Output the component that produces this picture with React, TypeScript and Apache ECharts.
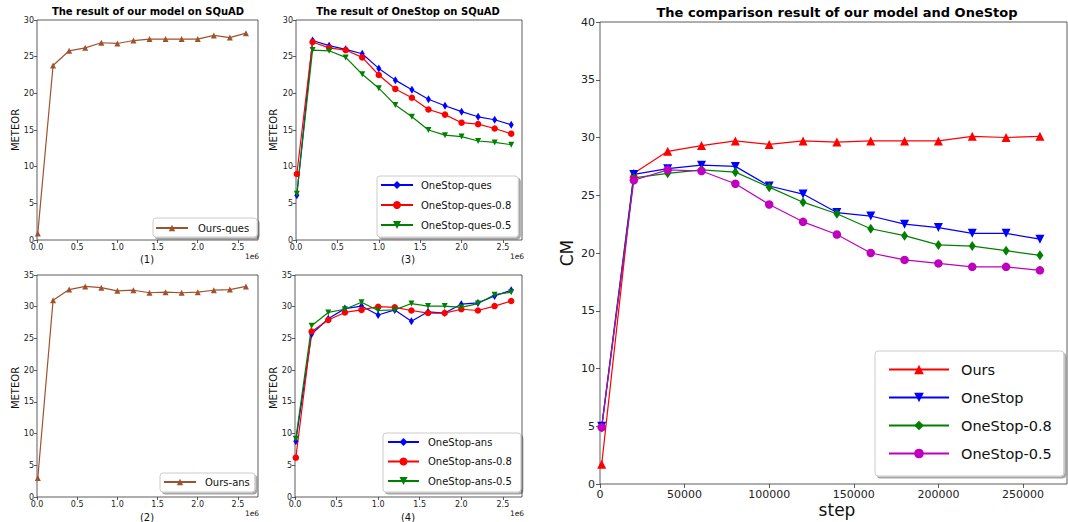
import React, { useEffect, useRef } from "react";
import * as echarts from "echarts";

const FONT = "DejaVu Sans";

// x positions (training steps)
const stepsLong = [10000, 200000, 400000, 600000, 800000, 1000000, 1200000, 1400000, 1600000, 1800000, 2000000, 2200000, 2400000, 2600000];
const stepsShort = [1000, 20000, 40000, 60000, 80000, 100000, 120000, 140000, 160000, 180000, 200000, 220000, 240000, 260000];

// (1) Ours on SQuAD (questions)
const oursQues = [0.9, 23.8, 25.8, 26.2, 26.9, 26.8, 27.2, 27.4, 27.4, 27.4, 27.4, 27.9, 27.6, 28.2];
// (2) Ours on SQuAD (answers)
const oursAns = [3.0, 31.0, 32.7, 33.2, 33.0, 32.5, 32.6, 32.2, 32.3, 32.2, 32.3, 32.6, 32.7, 33.2];
// (3) OneStop questions
const oneStopQues = [6.1, 27.2, 26.5, 26.0, 25.4, 23.4, 21.8, 20.5, 19.2, 18.3, 17.5, 16.8, 16.4, 15.7];
const oneStopQues08 = [9.0, 27.0, 26.2, 25.9, 24.9, 22.5, 20.6, 19.4, 17.8, 17.1, 16.0, 15.8, 15.2, 14.5];
const oneStopQues05 = [6.3, 25.9, 25.8, 24.9, 22.6, 20.7, 18.4, 16.8, 15.0, 14.3, 14.1, 13.5, 13.3, 13.0];
// (4) OneStop answers
const oneStopAns = [8.8, 25.7, 28.1, 29.7, 30.1, 28.7, 29.5, 27.7, 29.2, 29.0, 30.4, 30.6, 31.7, 32.6];
const oneStopAns08 = [6.2, 26.1, 27.9, 29.1, 29.5, 30.0, 29.9, 29.4, 29.0, 29.0, 29.6, 29.4, 30.1, 30.9];
const oneStopAns05 = [9.2, 27.0, 29.1, 29.6, 30.7, 29.4, 29.5, 30.5, 30.1, 30.1, 29.9, 30.5, 31.9, 32.3];
// Comparison (CM)
const cmOurs = [1.7, 26.9, 28.8, 29.3, 29.7, 29.4, 29.7, 29.6, 29.7, 29.7, 29.7, 30.1, 30.0, 30.1];
const cmOneStop = [5.0, 26.8, 27.3, 27.6, 27.5, 25.8, 25.1, 23.5, 23.2, 22.5, 22.2, 21.7, 21.7, 21.2];
const cmOneStop08 = [4.9, 26.5, 26.9, 27.2, 27.0, 25.7, 24.4, 23.4, 22.1, 21.5, 20.7, 20.6, 20.2, 19.8];
const cmOneStop05 = [4.9, 26.3, 27.2, 27.1, 26.0, 24.2, 22.7, 21.6, 20.0, 19.4, 19.1, 18.8, 18.8, 18.5];

// tick values
const smallXTicks = [0, 500000, 1000000, 1500000, 2000000, 2500000];
const bigXTicks = [0, 50000, 100000, 150000, 200000, 250000];

const pairs = (xs: number[], ys: number[]) => xs.map((x, i) => [x, ys[i]]);

function smallX(gridIndex: number, max: number) {
  return {
    type: "value",
    gridIndex,
    min: 0,
    max,
    axisLine: { show: false },
    splitLine: { show: false },
    axisTick: { show: true, length: 3, lineStyle: { color: "#333", width: 0.8 }, customValues: smallXTicks },
    axisLabel: {
      customValues: smallXTicks,
      formatter: (v: number) => (v / 1e6).toFixed(1),
      fontSize: 8,
      color: "#222",
      fontFamily: FONT,
      margin: 3,
    },
  };
}

function smallY(gridIndex: number, max: number) {
  return {
    type: "value",
    gridIndex,
    min: 0,
    max,
    interval: 5,
    axisLine: { show: false },
    splitLine: { show: false },
    axisTick: { show: true, length: 3, lineStyle: { color: "#333", width: 0.8 } },
    axisLabel: { fontSize: 8, color: "#222", fontFamily: FONT, margin: 3 },
  };
}

function line(name: string, idx: number, xs: number[], ys: number[], color: string, symbol: string, size: any, rotate = 0, width = 1.2) {
  return {
    type: "line",
    name,
    xAxisIndex: idx,
    yAxisIndex: idx,
    data: pairs(xs, ys),
    symbol,
    symbolSize: size,
    symbolRotate: rotate,
    showSymbol: true,
    itemStyle: { color, opacity: 1 },
    lineStyle: { color, width },
    emphasis: { disabled: true },
  };
}

function legendBox(
  names: string[],
  left: number,
  top: number,
  padding: number[],
  itemWidth: number,
  itemHeight: number,
  itemGap: number,
  fontSize: number,
  lineHeight: number,
  textPad: number
) {
  return {
    orient: "vertical",
    left,
    top,
    data: names,
    padding,
    itemWidth,
    itemHeight,
    itemGap,
    backgroundColor: "#fff",
    borderColor: "#ccc",
    borderWidth: 1,
    borderRadius: 3,
    shadowColor: "rgba(0,0,0,0.35)",
    shadowBlur: 0,
    shadowOffsetX: 2,
    shadowOffsetY: 2,
    selectedMode: false,
    textStyle: { fontSize, lineHeight, fontFamily: FONT, color: "#111", padding: [0, 0, 0, textPad] },
  };
}

function txt(text: string, x: number, y: number, fontSize: number, opts: any = {}) {
  return {
    type: "text",
    x,
    y,
    rotation: opts.rotation || 0,
    style: {
      text,
      fontSize,
      fontFamily: FONT,
      fontWeight: opts.bold ? "bold" : "normal",
      fill: opts.fill || "#111",
      align: "center",
      verticalAlign: "middle",
      textAlign: "center",
      textVerticalAlign: "middle",
    },
  };
}

export default function App() {
  const ref = useRef<HTMLDivElement>(null);
  useEffect(() => {
    if (!ref.current) return;
    const chart = echarts.init(ref.current, null, { renderer: "svg" });
    const gridBase = { show: true, borderColor: "#333", borderWidth: 0.8, backgroundColor: "transparent", containLabel: false };
    const option: any = {
      animation: false,
      backgroundColor: "#fff",
      grid: [
        { ...gridBase, left: 37, top: 20, width: 221, height: 220 },
        { ...gridBase, left: 296, top: 20, width: 226, height: 220 },
        { ...gridBase, left: 37, top: 275, width: 221, height: 222 },
        { ...gridBase, left: 295, top: 275, width: 227, height: 222 },
        { ...gridBase, left: 600, top: 22, width: 467, height: 462 },
      ],
      xAxis: [
        smallX(0, 2750000),
        smallX(1, 2730000),
        smallX(2, 2750000),
        smallX(3, 2730000),
        {
          type: "value",
          gridIndex: 4,
          min: 0,
          max: 276000,
          axisLine: { show: false },
          splitLine: { show: false },
          axisTick: { show: true, length: 4, lineStyle: { color: "#333", width: 0.8 }, customValues: bigXTicks },
          axisLabel: {
            customValues: bigXTicks,
            formatter: (v: number) => String(v),
            fontSize: 11,
            color: "#222",
            fontFamily: FONT,
            margin: 5,
          },
        },
      ],
      yAxis: [
        smallY(0, 30),
        smallY(1, 30),
        smallY(2, 35),
        smallY(3, 35),
        {
          type: "value",
          gridIndex: 4,
          min: 0,
          max: 40,
          interval: 5,
          axisLine: { show: false },
          splitLine: { show: false },
          axisTick: { show: true, length: 4, lineStyle: { color: "#333", width: 0.8 } },
          axisLabel: { fontSize: 11, color: "#222", fontFamily: FONT, margin: 5 },
        },
      ],
      legend: [
        legendBox(["Ours-ques"], 153, 218, [4, 8, 3, 2], 32, 8, 8, 10, 12, 5),
        legendBox(["OneStop-ques", "OneStop-ques-0.8", "OneStop-ques-0.5"], 377, 176, [3, 7, 6, 3], 32, 10, 8, 10, 12, 3),
        legendBox(["Ours-ans"], 160, 473, [3, 5, 4, 3], 32, 8, 8, 10, 12, 4),
        legendBox(["OneStop-ans", "OneStop-ans-0.8", "OneStop-ans-0.5"], 383, 433, [3, 9, 5, 4], 31, 10, 7.5, 10, 12, 4),
        legendBox(["Ours", "OneStop", "OneStop-0.8", "OneStop-0.5"], 875, 351, [10, 12, 14, 13], 60, 12, 11, 14.5, 17, 7),
      ],
      series: [
        line("Ours-ques", 0, stepsLong, oursQues, "#a0522d", "triangle", 6),
        line("OneStop-ques", 1, stepsLong, oneStopQues, "#0000ff", "diamond", [5, 8]),
        line("OneStop-ques-0.8", 1, stepsLong, oneStopQues08, "#ff0000", "circle", 6.5),
        line("OneStop-ques-0.5", 1, stepsLong, oneStopQues05, "#008000", "triangle", 6, 180),
        line("Ours-ans", 2, stepsLong, oursAns, "#a0522d", "triangle", 6),
        line("OneStop-ans", 3, stepsLong, oneStopAns, "#0000ff", "diamond", [5, 8]),
        line("OneStop-ans-0.8", 3, stepsLong, oneStopAns08, "#ff0000", "circle", 6.5),
        line("OneStop-ans-0.5", 3, stepsLong, oneStopAns05, "#008000", "triangle", 6, 180),
        line("Ours", 4, stepsShort, cmOurs, "#ff0000", "triangle", 9),
        line("OneStop", 4, stepsShort, cmOneStop, "#0000ff", "triangle", 9, 180),
        line("OneStop-0.8", 4, stepsShort, cmOneStop08, "#008000", "diamond", [7, 10]),
        line("OneStop-0.5", 4, stepsShort, cmOneStop05, "#bf00bf", "circle", 8.5),
      ],
      graphic: [
        txt("The result of our model on SQuAD", 148, 11, 10, { bold: true, fill: "#000" }),
        txt("The result of OneStop on SQuAD", 408, 11, 10, { bold: true, fill: "#000" }),
        txt("The comparison result of our model and OneStop", 837, 12, 13, { bold: true, fill: "#000" }),
        txt("METEOR", 15, 130, 10, { rotation: Math.PI / 2 }),
        txt("METEOR", 273, 130, 10, { rotation: Math.PI / 2 }),
        txt("METEOR", 15, 388, 10, { rotation: Math.PI / 2 }),
        txt("METEOR", 273, 388, 10, { rotation: Math.PI / 2 }),
        txt("(1)", 147, 259, 10),
        txt("(3)", 408, 259, 10),
        txt("(2)", 147, 517, 10),
        txt("(4)", 408, 517, 10),
        txt("1e6", 252, 256, 7.5),
        txt("1e6", 517, 256, 7.5),
        txt("1e6", 252, 513, 7.5),
        txt("1e6", 517, 513, 7.5),
        txt("CM", 567, 253, 17, { rotation: Math.PI / 2 }),
        txt("step", 837, 510, 17),
      ],
    };
    chart.setOption(option);
    return () => chart.dispose();
  }, []);
  return <div ref={ref} style={{ position: "absolute", left: 0, top: 0, width: 1068, height: 522, background: "#fff" }} />;
}
